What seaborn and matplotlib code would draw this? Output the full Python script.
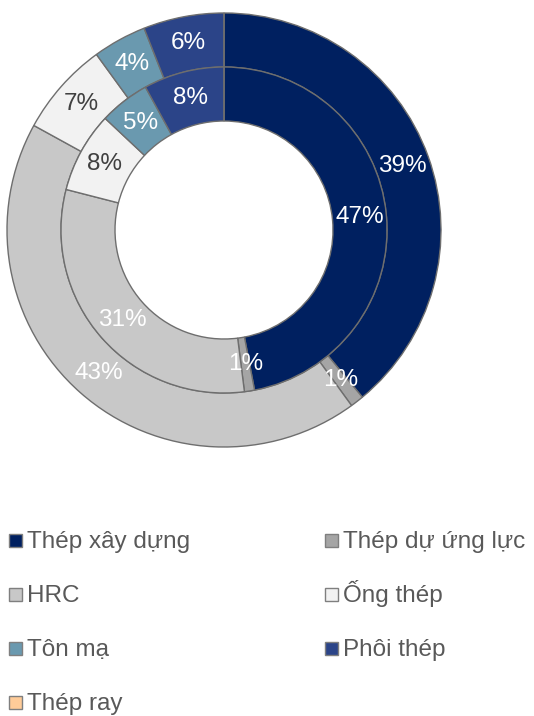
import matplotlib
matplotlib.use("Agg")
import matplotlib.pyplot as plt
from matplotlib.patches import Rectangle
import numpy as np
import seaborn as sns

sns.set_theme(style="white")
plt.rcParams["font.family"] = ["Liberation Sans", "DejaVu Sans"]

# Product categories and shares (%): outer ring and inner ring
categories = ["Thép xây dựng", "Thép dự ứng lực", "HRC", "Ống thép",
              "Tôn mạ", "Phôi thép", "Thép ray"]
outer_share = [39, 1, 43, 7, 4, 6, 0]
inner_share = [47, 1, 31, 8, 5, 8, 0]
colors = ["#002060", "#A5A5A5", "#C8C8C8", "#F2F2F2",
          "#6A99AF", "#2B4488", "#FFCC99"]
label_colors = ["white", "white", "white", "#404040", "white", "white", "white"]

W, H = 534, 716
fig = plt.figure(figsize=(W / 100, H / 100), dpi=100)
fig.patch.set_facecolor("white")

cx, cy, R = 224, 230, 217
ax = fig.add_axes([(cx - R) / W, (H - cy - R) / H, 2 * R / W, 2 * R / H])

ring_w = 54 / R
r_inner_outer = 163 / R
edge = dict(edgecolor="#6E6E6E", linewidth=1.0)


def draw_ring(values, radius, width):
    wedges, _ = ax.pie(values, radius=radius, colors=colors, startangle=90,
                       counterclock=False,
                       wedgeprops=dict(width=width, **edge))
    mid_r = radius - width / 2
    for w, v, tc in zip(wedges, values, label_colors):
        if v <= 0:
            continue
        ang = np.deg2rad((w.theta1 + w.theta2) / 2)
        ax.text(mid_r * np.cos(ang), mid_r * np.sin(ang), f"{v}%",
                ha="center", va="center", fontsize=17.5, color=tc)


draw_ring(outer_share, 1.0, ring_w)
draw_ring(inner_share, r_inner_outer, ring_w)
ax.set_xlim(-1, 1)
ax.set_ylim(-1, 1)
ax.set_aspect("equal")
ax.axis("off")

# Legend laid out row by row in two columns
col_x = [9, 325]
row_y = [540.5, 594.5, 648.5, 702.5]
box = 13
for i, (name, col) in enumerate(zip(categories, colors)):
    r, c = divmod(i, 2)
    x0, yc = col_x[c], row_y[r]
    fig.patches.append(Rectangle((x0 / W, 1 - (yc + box / 2) / H),
                                 box / W, box / H, transform=fig.transFigure,
                                 facecolor=col, edgecolor="#7F7F7F",
                                 linewidth=1.0))
    fig.text((x0 + box + 5) / W, 1 - (yc + 7.5) / H, name, ha="left",
             va="baseline", fontsize=17.5, color="#595959")

fig.savefig("out.png", dpi=100, facecolor="white")
